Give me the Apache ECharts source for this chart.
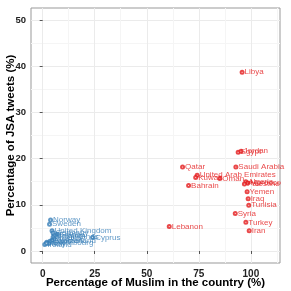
<!DOCTYPE html>
<html><head><meta charset="utf-8">
<script src="https://cdn.jsdelivr.net/npm/echarts@6/dist/echarts.min.js"></script>
<style>html,body{margin:0;padding:0;background:#fff}#c{width:291px;height:291px}</style>
</head><body><div id="c"></div>
<script>
// Arab / Muslim-majority countries (red)
const redNames = ["Libya","Egypt","Jordan","Qatar","Saudi Arabia","United Arab Emirates","Kuwait","Oman","Algeria","Morocco","Palestine","Bahrain","Yemen","Iraq","Tunisia","Syria","Lebanon","Turkey","Iran"];
const redMuslim = [95.8, 93.9, 95.3, 67.2, 92.8, 74.2, 73.5, 85.1, 97.6, 98.5, 96.9, 70.1, 98.2, 98.7, 99.0, 92.5, 60.8, 97.6, 99.2];
const redTweets = [38.7, 21.4, 21.6, 18.2, 18.2, 16.4, 15.9, 15.7, 15.0, 14.7, 14.5, 14.2, 12.8, 11.3, 9.9, 8.1, 5.3, 6.2, 4.4];
// Other countries (blue)
const blueNames = ["Norway","Sweden","United Kingdom","Germany","France","Belgium","Netherlands","Cyprus","Austria","Switzerland","Denmark","Spain","Italy","Ireland","Luxembourg"];
const blueMuslim = [3.8, 3.3, 4.5, 5.0, 7.0, 5.5, 5.0, 24.0, 5.5, 4.5, 3.5, 2.0, 3.0, 1.0, 1.8];
const blueTweets = [6.7, 5.8, 4.4, 3.9, 3.6, 3.3, 3.0, 2.9, 2.6, 2.3, 2.1, 1.9, 1.6, 1.4, 1.7];
const xTicks = [0, 25, 50, 75, 100];
const xMinor = [12.5, 37.5, 62.5, 87.5, 112.5];
const yTicks = [0, 10, 20, 30, 40, 50];
const yMinor = [5, 15, 25, 35, 45];

const FONT = 'Liberation Sans, Arial, sans-serif';
const red = '#E41A1C', blue = '#377EB8';
function mk(names, xs, ys) { return names.map((n, i) => [xs[i], ys[i], n]); }
function series(data, color) {
  return {
    type: 'scatter', data: data, symbol: 'emptyCircle', symbolSize: 3,
    itemStyle: { color: color, borderWidth: 0.8 },
    label: { show: true, position: 'right', distance: 0, offset: [0, -1],
      formatter: p => p.data[2], color: color, fontSize: 8, fontFamily: FONT },
    labelLayout: { hideOverlap: false }, emphasis: { disabled: true }, silent: true
  };
}
const X0 = -5.6, X1 = 114, Y0 = -2.6, Y1 = 52.6;
const chart = echarts.init(document.getElementById('c'), null, { renderer: 'canvas' });
chart.setOption({
  animation: false, backgroundColor: '#fff',
  grid: { left: 31, right: 11, top: 8, bottom: 28, containLabel: false, outerBoundsMode: 'none',
    show: true, borderColor: '#999', borderWidth: 1, backgroundColor: 'transparent' },
  xAxis: [{
    type: 'value', min: X0, max: X1, position: 'bottom',
    name: 'Percentage of Muslim in the country (%)', nameLocation: 'middle', nameGap: 14, nameMoveOverlap: false,
    nameTextStyle: { fontFamily: FONT, fontWeight: 'bold', fontSize: 11.5, color: '#000' },
    axisLine: { show: false },
    axisTick: { show: true, length: 3, customValues: xTicks, lineStyle: { color: '#555' } },
    axisLabel: { customValues: xTicks, margin: 6, fontFamily: FONT, fontWeight: 'bold', fontSize: 10, color: '#222' },
    splitLine: { show: true, lineStyle: { color: '#ebebeb', width: 1 } }
  }, {
    type: 'value', min: X0, max: X1, position: 'top',
    axisLine: { show: false }, axisTick: { show: false, customValues: xMinor },
    axisLabel: { show: false, customValues: xMinor },
    splitLine: { show: true, lineStyle: { color: '#f5f5f5', width: 1 } }
  }],
  yAxis: [{
    type: 'value', min: Y0, max: Y1, position: 'left',
    name: 'Percentage of JSA tweets (%)', nameLocation: 'middle', nameGap: 14, nameRotate: 90, nameMoveOverlap: false,
    nameTextStyle: { fontFamily: FONT, fontWeight: 'bold', fontSize: 11.5, color: '#000' },
    axisLine: { show: false },
    axisTick: { show: true, length: 3, customValues: yTicks, lineStyle: { color: '#555' } },
    axisLabel: { customValues: yTicks, margin: 5, fontFamily: FONT, fontWeight: 'bold', fontSize: 9.5, color: '#222' },
    splitLine: { show: true, lineStyle: { color: '#ebebeb', width: 1 } }
  }, {
    type: 'value', min: Y0, max: Y1, position: 'right',
    axisLine: { show: false }, axisTick: { show: false, customValues: yMinor },
    axisLabel: { show: false, customValues: yMinor },
    splitLine: { show: true, lineStyle: { color: '#f5f5f5', width: 1 } }
  }],
  series: [
    series(mk(blueNames, blueMuslim, blueTweets), blue),
    series(mk(redNames, redMuslim, redTweets), red)
  ]
});
</script></body></html>
